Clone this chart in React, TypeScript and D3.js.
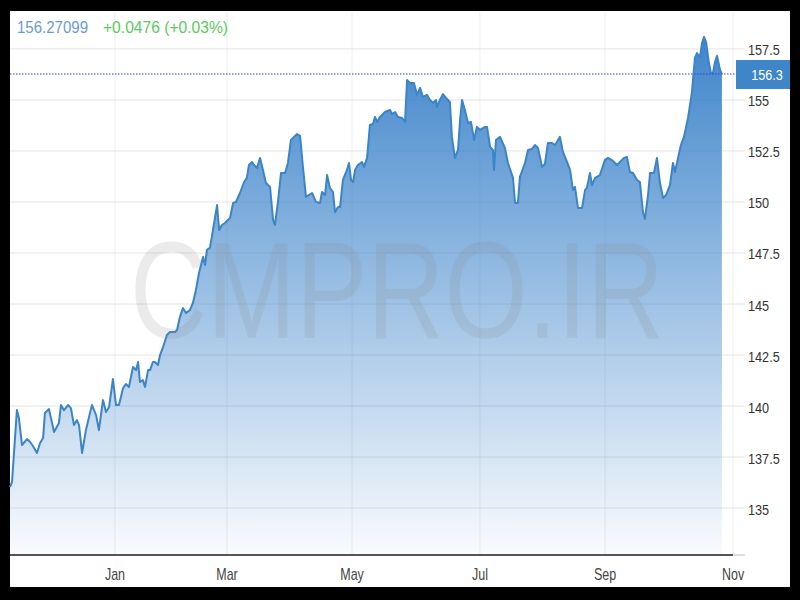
import React from 'react';
import * as d3 from 'd3';

// Ordinal (session) positions along the time axis and closing prices
const sessionPos = [
  0, 1.0, 3.4, 4.4, 5.9, 8.4, 9.9, 11.3, 13.3, 14.8, 16.3, 17.2, 19.2, 21.7, 24.1, 25.1, 26.6, 28.6, 30.0, 31.5,
  33.0, 34.0, 35.5, 37.4, 39.4, 40.4, 42.4, 43.8, 45.8, 47.3, 48.8, 50.7, 52.2, 53.7, 55.7, 57.1, 58.6, 60.6, 62.1, 63.1,
  64.0, 65.5, 66.5, 68.0, 69.0, 70.4, 71.4, 72.9, 73.9, 75.4, 77.3, 78.8, 81.3, 82.3, 83.7, 85.2, 86.7, 88.7, 90.1, 91.6,
  93.1, 95.1, 96.1, 97.0, 98.5, 100.0, 102.0, 103.0, 104.4, 105.9, 108.4, 109.9, 111.3, 113.3, 115.3, 116.7, 117.7, 119.2, 120.2, 121.7,
  123.2, 124.6, 126.1, 127.1, 128.1, 129.6, 130.5, 132.0, 133.5, 135.5, 136.9, 138.4, 139.9, 141.4, 142.9, 144.3, 145.8, 148.8, 150.7, 152.7,
  153.7, 155.2, 156.2, 157.6, 159.1, 160.1, 161.6, 162.6, 164.0, 166.0, 167.0, 168.0, 169.0, 170.0, 171.4, 173.4, 174.4, 175.9, 177.3, 178.8,
  179.8, 180.8, 182.3, 184.7, 187.2, 188.2, 189.7, 191.1, 193.1, 194.6, 195.6, 197.0, 199.0, 200.5, 202.0, 203.4, 205.4, 206.9, 208.4, 209.9,
  210.3, 211.8, 213.3, 214.8, 216.7, 217.7, 219.2, 220.7, 221.7, 222.7, 224.1, 225.6, 227.1, 228.6, 230.0, 231.5, 234.0, 235.0, 236.5, 237.9,
  238.4, 239.4, 241.4, 243.8, 245.3, 247.8, 248.8, 250.2, 251.2, 253.7, 255.2, 257.1, 258.6, 260.1, 262.1, 263.5, 265.0, 267.0, 268.5, 270.9,
  272.4, 274.4, 275.9, 277.3, 278.3, 279.8, 281.8, 283.3, 284.2, 285.7, 286.7, 288.2, 290.6, 293.1, 294.6, 297.0, 299.0, 300.5, 302.5, 303.9,
  305.4, 306.9, 308.9, 310.3, 311.8, 312.8, 314.3, 315.3, 317.2, 318.7, 320.2, 321.7, 323.2, 325.1, 326.6, 327.6, 329.1, 330.5, 332.0, 334.0,
  335.9, 337.4, 338.4, 339.9, 340.9, 341.9, 342.9, 344.3, 345.3, 346.3, 347.3, 348.3, 349.8, 350.7,
];

const closePrices = [
  136.03, 136.27, 139.80, 139.41, 138.09, 138.38, 138.24, 138.04, 137.70, 138.19, 138.43, 139.66, 139.85, 138.73, 139.17, 140.05, 139.80, 140.05, 139.90, 139.07,
  139.31, 139.07, 137.70, 138.82, 139.66, 140.05, 139.56, 138.82, 140.29, 139.71, 139.95, 141.32, 140.05, 140.05, 140.88, 141.08, 140.93, 141.91, 141.76, 142.16,
  141.18, 141.27, 140.93, 141.76, 141.76, 142.16, 142.16, 142.01, 142.50, 142.89, 143.48, 143.63, 143.63, 143.73, 144.36, 144.80, 144.56, 144.71, 145.05, 145.69,
  146.52, 147.30, 146.91, 147.65, 147.75, 148.63, 149.85, 148.63, 148.87, 148.97, 149.22, 149.95, 150.00, 150.44, 150.98, 151.18, 151.81, 151.96, 151.81, 151.67,
  152.16, 151.57, 150.93, 150.83, 150.74, 149.12, 148.87, 150.00, 151.42, 151.42, 151.91, 153.04, 153.19, 153.33, 153.24, 151.72, 150.25, 150.44, 150.00, 149.95,
  150.49, 150.34, 151.32, 150.69, 150.49, 149.51, 149.75, 149.75, 151.08, 151.57, 151.91, 151.08, 150.98, 151.57, 151.81, 151.96, 151.72, 152.16, 153.77, 153.82,
  154.17, 153.92, 154.17, 154.41, 154.51, 154.31, 154.41, 154.17, 154.12, 153.92, 155.98, 155.83, 155.83, 155.25, 155.59, 155.15, 155.25, 155.00, 154.85, 155.00,
  154.66, 155.00, 155.29, 155.10, 154.90, 153.19, 152.16, 152.55, 154.02, 155.00, 154.51, 153.87, 153.92, 153.04, 153.68, 153.53, 153.68, 153.68, 152.70, 152.55,
  151.57, 153.04, 153.19, 152.65, 151.91, 151.18, 149.95, 149.95, 151.23, 151.91, 152.55, 152.60, 152.79, 152.65, 151.72, 151.86, 152.89, 152.89, 152.79, 153.19,
  152.45, 151.96, 151.57, 150.59, 150.74, 149.71, 149.71, 150.59, 150.69, 151.42, 150.83, 151.18, 151.32, 152.06, 152.16, 152.01, 151.81, 151.96, 152.16, 152.21,
  151.47, 151.42, 151.08, 150.98, 149.51, 149.17, 150.34, 151.42, 151.42, 152.16, 150.93, 150.20, 150.34, 150.83, 151.91, 151.47, 152.16, 152.79, 153.19, 154.12,
  155.34, 157.06, 157.30, 157.11, 157.79, 158.09, 157.84, 156.81, 156.32, 156.32, 156.86, 157.16, 156.47, 156.27,
];

const monthLabels = ['Jan', 'Mar', 'May', 'Jul', 'Sep', 'Nov'];
const monthTickPos = [51.7, 106.9, 168.5, 231.5, 293.1, 356.2];
const priceTicks = [135, 137.5, 140, 142.5, 145, 147.5, 150, 152.5, 155, 157.5];
const lastPriceText = '156.27099';
const changeText = '+0.0476 (+0.03%)';
const lastPrice = 156.27099;
const watermarkText = 'CMPRO.IR';

const FONT = "'Liberation Sans', Arial, sans-serif";

export default function App() {
  const W = 800;
  const H = 600;
  const left = 10;
  const right = 734.7;
  const top = 12;
  const bottom = 555;

  const x = d3.scaleLinear().domain([0, 357]).range([left, right]);
  const y = d3.scaleLinear().domain([132.7, 159.31]).range([bottom, top]);

  const data = sessionPos.map((p, i) => ({ p, v: closePrices[i] }));
  const areaGen = d3
    .area<{ p: number; v: number }>()
    .x((d) => x(d.p))
    .y0(bottom)
    .y1((d) => y(d.v));
  const lineGen = d3
    .line<{ p: number; v: number }>()
    .x((d) => x(d.p))
    .y((d) => y(d.v));

  const lastY = y(lastPrice);

  return (
    <div style={{ position: 'absolute', left: 0, top: 0, width: W, height: H }}>
      <svg width={W} height={H} style={{ display: 'block' }}>
        <defs>
          <linearGradient id="fillGrad" gradientUnits="userSpaceOnUse" x1="0" y1={y(158.1)} x2="0" y2={bottom}>
            <stop offset="0" stopColor="#3f85cb" stopOpacity="1" />
            <stop offset="1" stopColor="#3f85cb" stopOpacity="0.03" />
          </linearGradient>
        </defs>
        <rect x={0} y={0} width={W} height={H} fill="#000" />
        <rect x={10} y={11} width={780} height={576} fill="#fff" />

        {/* vertical grid lines */}
        {monthTickPos.map((p, i) => (
          <line key={'vg' + i} x1={x(p)} x2={x(p)} y1={top} y2={bottom} stroke="#eeeeee" strokeWidth={1} />
        ))}
        {/* horizontal grid lines */}
        {priceTicks.map((t, i) => (
          <line key={'hg' + i} x1={left} x2={745} y1={y(t)} y2={y(t)} stroke="#e4e4e4" strokeWidth={1} />
        ))}

        <path d={areaGen(data) || ''} fill="url(#fillGrad)" />
        <path d={lineGen(data) || ''} fill="none" stroke="#3c84c8" strokeWidth={2} strokeLinejoin="round" />

        {/* watermark */}
        <text
          transform={`translate(${397},${338}) scale(0.78,1)`}
          textAnchor="middle"
          fontFamily={FONT}
          fontSize={137}
          fill="#8a8a8a"
          fillOpacity={0.17}
        >
          {watermarkText}
        </text>

        {/* x axis */}
        <line x1={left} x2={745} y1={bottom} y2={bottom} stroke="#dddddd" strokeWidth={2} />
        <line x1={left} x2={733} y1={bottom} y2={bottom} stroke="#555555" strokeWidth={2} />
        {monthLabels.map((m, i) => (
          <text
            key={'xl' + i}
            transform={`translate(${x(monthTickPos[i])},${580}) scale(0.78,1)`}
            textAnchor="middle"
            fontFamily={FONT}
            fontSize={16}
            fill="#444"
          >
            {m}
          </text>
        ))}

        {/* y axis labels */}
        {priceTicks.map((t, i) => (
          <text
            key={'yl' + i}
            transform={`translate(${748},${y(t) + 6.5}) scale(0.845,1)`}
            fontFamily={FONT}
            fontSize={15}
            fill="#333"
          >
            {String(t)}
          </text>
        ))}

        {/* last price line and label */}
        <line x1={left} x2={736} y1={lastY} y2={lastY} stroke="#3a3af0" strokeWidth={1} strokeDasharray="1.5,1.5" />
        <rect x={736} y={lastY - 14} width={54} height={29} fill="#3f86c8" />
        <text
          transform={`translate(${767},${lastY + 5.5}) scale(0.845,1)`}
          textAnchor="middle"
          fontFamily={FONT}
          fontSize={15}
          fill="#fff"
        >
          {lastPrice.toFixed(1)}
        </text>

        {/* header */}
        <text x={17} y={33} fontFamily={FONT} fontSize={17} fill="#6a9ad6" textLength={71} lengthAdjust="spacingAndGlyphs">
          {lastPriceText}
        </text>
        <text x={103} y={33} fontFamily={FONT} fontSize={17} fill="#5cc95c" textLength={125} lengthAdjust="spacingAndGlyphs">
          {changeText}
        </text>
      </svg>
    </div>
  );
}
